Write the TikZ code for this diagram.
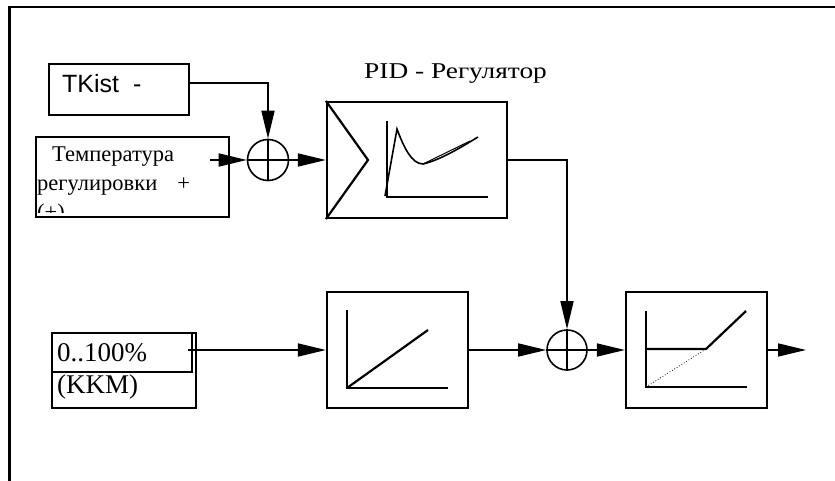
\documentclass[tikz,border=0pt]{standalone}
\usepackage{fontspec}
\setmainfont{Liberation Serif}
\newfontfamily\arialf{Liberation Sans}
\usetikzlibrary{arrows.meta}
\begin{document}
\begin{tikzpicture}[x=1pt,y=-1pt,
  box/.style={draw, line width=2.2pt, rectangle, inner sep=0pt},
  sumnode/.style={draw, line width=1.6pt, circle, minimum size=41pt, inner sep=0pt},
  conn/.style={line width=1.6pt, -{Triangle[length=28pt,width=13pt]}},
  wire/.style={line width=1.6pt},
  plotline/.style={line width=2.2pt},
  txt/.style={anchor=base west, inner sep=0pt, font=\fontsize{22.5}{27}\selectfont},
  bigtxt/.style={anchor=base west, inner sep=0pt, font=\fontsize{27}{32}\selectfont}]
\useasboundingbox (0,0) rectangle (835,481);
\draw[line width=2.2pt] (9.5,481) -- (9.5,7) -- (835,7);

% blocks
\node[box, minimum width=140pt, minimum height=51pt] (tk) at (119,89.5) {};
\node[box, minimum width=193pt, minimum height=80pt] (temp) at (132.5,177) {};
\node[sumnode] (s1) at (268,160) {};
\node[box, minimum width=180pt, minimum height=116pt] (pid) at (417,160) {};
\node[box, minimum width=144pt, minimum height=75pt] (pct) at (124,370.5) {};
\node[box, minimum width=140pt, minimum height=39pt, line width=1.6pt] (pcttop) at (122,352.5) {};
\node[box, minimum width=141pt, minimum height=116pt] (mid) at (397.5,350) {};
\node[sumnode, minimum size=40pt] (s2) at (567,350) {};
\node[box, minimum width=141pt, minimum height=116pt] (out) at (696.5,350) {};
\coordinate (end) at (806,350);
\coordinate (tempin) at (210,160);
\coordinate (pctout) at (188,350);

% plus signs in the summing points
\foreach \s in {s1,s2} {
  \draw[wire] (\s.north) -- (\s.south) (\s.west) -- (\s.east);
}

% texts
\node[anchor=base west, inner sep=0pt, font=\arialf\fontsize{25}{30}\selectfont] (tkt) at (62,93) {TKist\ \ -};
\begin{scope}
  \clip (37,138) rectangle (228,213);
  \node[txt] (t1) at (52,162) {Температура};
  \node[txt] (t2) at (37,191) {регулировки\hspace{20pt}+};
  \node[txt] (t3) at (37,219) {(+)};
\end{scope}
\node[anchor=base west, inner sep=0pt, font=\fontsize{22.6}{27}\selectfont] (pidl) at (364,79) {\scalebox{1.21}[1]{PID - Регулятор}};
\node[bigtxt] (p1) at (57,361) {0..100\%};
\node[bigtxt] (p2) at (57,393) {(KKM)};

% connectors
\draw[conn] (tempin) -- (s1.west);
\draw[conn] (tk.east |- 0,83) -| (s1.north);
\draw[conn] (s1.east) -- (pid.west);
\draw[conn] (pid.east) -| (s2.north);
\draw[conn] (pctout) -- (mid.west);
\draw[conn] (mid.east) -- (s2.west);
\draw[conn] (s2.east) -- (out.west);
\draw[conn] (out.east) -- (end);

% PID symbol
\draw[plotline] (pid.north west) -- (368,160) -- (pid.south west);
\draw[plotline] (387,121) -- (387,197) -- (488,197);
\draw[line width=1.6pt] (385,196) -- (397,129) .. controls (404,148) and (412,164) .. (423,164)
   .. controls (440,160) and (460,148) .. (478,137);
\draw[line width=1pt] (423,164) -- (470,141);

% linear symbol
\draw[plotline] (347,310) -- (347,388) -- (448,388);
\draw[plotline] (347,388) -- (428,330);

% limiter symbol
\draw[plotline] (646,311) -- (646,387) -- (747,387);
\draw[plotline] (646,349) -- (706,349) -- (746,311);
\draw[line width=0.8pt, dotted] (646,387) -- (706,349);
\end{tikzpicture}
\end{document}
